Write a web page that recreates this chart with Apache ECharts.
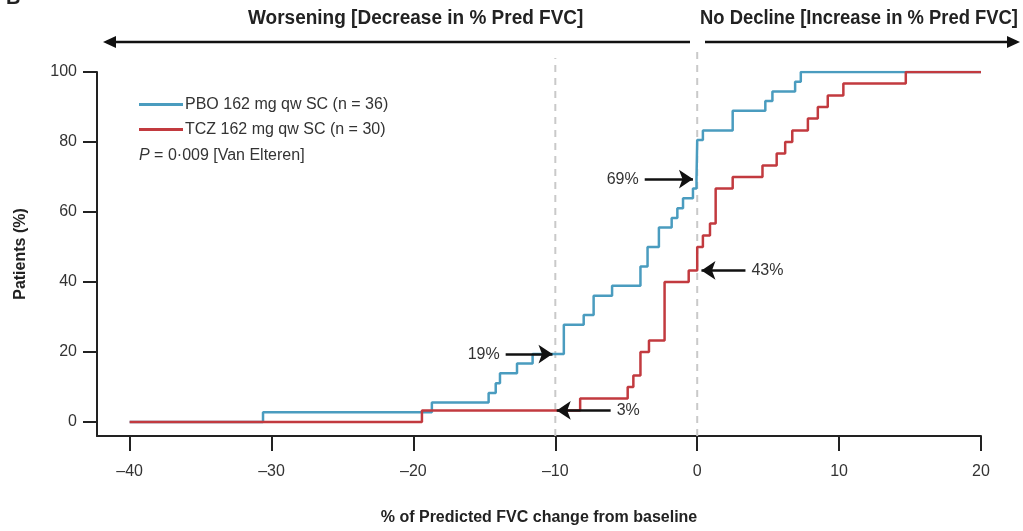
<!DOCTYPE html>
<html>
<head>
<meta charset="utf-8">
<script src="https://cdn.jsdelivr.net/npm/echarts@6/dist/echarts.min.js"></script>
<style>
  html, body { margin: 0; padding: 0; background: #fff; }
  #chart { width: 1023px; height: 531px; }
</style>
</head>
<body>
<div id="chart"></div>
<script>
// PBO 162 mg qw SC (n = 36) - step points: change from baseline, cumulative % of patients
const pboChange = [-40, -30.6, -18.7, -14.7, -14.2, -13.9, -12.7, -11.6, -9.4, -8.0, -7.3, -6.0, -4.0, -3.5, -2.7, -1.8, -1.4, -1.0, -0.3, -0.05, 0, 0.4, 2.5, 4.8, 5.3, 6.9, 7.3, 20];
const pboPct    = [0, 2.8, 5.6, 8.3, 11.1, 13.9, 16.7, 19.4, 27.8, 30.6, 36.1, 38.9, 44.4, 50.0, 55.6, 58.3, 61.1, 63.9, 66.7, 69.4, 80.6, 83.3, 88.9, 91.7, 94.4, 97.2, 100, 100];
// TCZ 162 mg qw SC (n = 30)
const tczChange = [-40, -19.4, -8.25, -4.9, -4.5, -4.0, -3.4, -2.3, -0.6, 0, 0.4, 0.9, 1.3, 2.5, 4.6, 5.6, 6.2, 6.7, 7.8, 8.5, 9.2, 10.3, 14.7, 20];
const tczPct    = [0, 3.3, 6.7, 10.0, 13.3, 20.0, 23.3, 40.0, 43.3, 50.0, 53.3, 56.7, 66.7, 70.0, 73.3, 76.7, 80.0, 83.3, 86.7, 90.0, 93.3, 96.7, 100, 100];

const xTicks = [-40, -30, -20, -10, 0, 10, 20];
const yTicks = [0, 20, 40, 60, 80, 100];
const refLines = [-10, 0];

// callouts: label, tail x, head x, y
const notes = [
  { text: '19%', from: -13.5, to: -10.2, y: 19.4 },
  { text: '69%', from: -3.7, to: -0.3, y: 69.4 },
  { text: '43%', from: 3.4, to: 0.3, y: 43.3 },
  { text: '3%', from: -6.1, to: -9.9, y: 3.3 }
];

const BLUE = '#4a9cbf';
const RED = '#c23a3f';
const SANS = "'Liberation Sans', Arial, sans-serif";

const zip = (xs, ys) => xs.map((x, i) => [x, ys[i]]);

const chart = echarts.init(document.getElementById('chart'));

const refSeries = refLines.map(x => ({
  type: 'line',
  name: 'ref' + x,
  data: [[x, -4], [x, x === 0 ? 107 : 104]],
  clip: false,
  symbol: 'none',
  silent: true,
  z: 1,
  lineStyle: { color: '#c9c9c9', width: 2, type: [7, 6] }
}));

const option = {
  animation: false,
  textStyle: { fontFamily: SANS },
  grid: { left: 97, right: 42, top: 72, bottom: 94 },
  legend: {
    data: ['PBO 162 mg qw SC (n = 36)', 'TCZ 162 mg qw SC (n = 30)'],
    orient: 'vertical',
    left: 134,
    top: 91,
    icon: 'rect',
    itemWidth: 44,
    itemHeight: 3,
    itemGap: 8,
    textStyle: { fontSize: 16, color: '#333', fontFamily: SANS, lineHeight: 17, padding: [0, 0, 0, -3] }
  },
  title: {
    text: '{i|P} = 0·009 [Van Elteren]',
    left: 134,
    top: 143,
    textStyle: {
      fontSize: 16, fontWeight: 'normal', color: '#333', fontFamily: SANS,
      rich: { i: { fontStyle: 'italic', fontSize: 16, color: '#333', fontFamily: SANS } }
    }
  },
  xAxis: {
    type: 'value',
    min: -42.3,
    max: 20,
    name: '% of Predicted FVC change from baseline',
    nameLocation: 'middle',
    nameGap: 74,
    nameTextStyle: { fontSize: 16, fontWeight: 'bold', color: '#222', fontFamily: SANS },
    splitLine: { show: false },
    axisLine: { onZero: false, lineStyle: { color: '#222', width: 2 } },
    axisTick: { customValues: xTicks, length: 15, lineStyle: { color: '#222', width: 2 } },
    axisLabel: {
      customValues: xTicks,
      margin: 28,
      fontSize: 16,
      color: '#333',
      fontFamily: SANS,
      formatter: v => (v < 0 ? '\u2013' + Math.abs(v) : String(v))
    }
  },
  yAxis: {
    type: 'value',
    min: -4,
    max: 100,
    name: 'Patients (%)',
    nameLocation: 'middle',
    nameGap: 68,
    nameTextStyle: { fontSize: 16, fontWeight: 'bold', color: '#222', fontFamily: SANS },
    splitLine: { show: false },
    axisLine: { show: true, onZero: false, lineStyle: { color: '#222', width: 2 } },
    axisTick: { show: true, customValues: yTicks, length: 14, lineStyle: { color: '#222', width: 2 } },
    axisLabel: { customValues: yTicks, margin: 20, fontSize: 16, color: '#333', fontFamily: SANS }
  },
  graphic: [
    { type: 'text', left: 6, top: -12, style: { text: 'B', fontSize: 20, fontWeight: 'bold', fill: '#222', fontFamily: SANS } },
    { type: 'text', x: 248, y: 8, scaleX: 0.95, style: { text: 'Worsening [Decrease in % Pred FVC]', fontSize: 20, fontWeight: 'bold', fill: '#222', fontFamily: SANS } },
    { type: 'text', x: 700, y: 8, scaleX: 0.92, style: { text: 'No Decline [Increase in % Pred FVC]', fontSize: 20, fontWeight: 'bold', fill: '#222', fontFamily: SANS } },
    { type: 'line', shape: { x1: 110, y1: 42, x2: 690, y2: 42 }, style: { stroke: '#111', lineWidth: 2.5 } },
    { type: 'polygon', shape: { points: [[103, 42], [116, 36], [116, 48]] }, style: { fill: '#111' } },
    { type: 'line', shape: { x1: 705, y1: 42, x2: 1012, y2: 42 }, style: { stroke: '#111', lineWidth: 2.5 } },
    { type: 'polygon', shape: { points: [[1020, 42], [1007, 36], [1007, 48]] }, style: { fill: '#111' } }
  ],
  series: [
    ...refSeries,
    {
      name: 'PBO 162 mg qw SC (n = 36)',
      type: 'line',
      step: 'end',
      symbol: 'none',
      color: BLUE,
      lineStyle: { color: BLUE, width: 2.5 },
      z: 3,
      data: zip(pboChange, pboPct)
    },
    {
      name: 'TCZ 162 mg qw SC (n = 30)',
      type: 'line',
      step: 'end',
      symbol: 'none',
      color: RED,
      lineStyle: { color: RED, width: 2.5 },
      z: 4,
      data: zip(tczChange, tczPct)
    },
    {
      name: 'notes',
      type: 'line',
      data: [],
      color: '#111',
      z: 5,
      markLine: {
        silent: true,
        symbol: ['none', 'arrow'],
        symbolSize: 14,
        itemStyle: { color: '#111' },
        lineStyle: { color: '#111', width: 2.5, type: 'solid' },
        label: { position: 'start', fontSize: 16, color: '#333', fontFamily: SANS, distance: 6 },
        data: notes.map(n => [
          { coord: [n.from, n.y], label: { formatter: n.text } },
          { coord: [n.to, n.y] }
        ])
      }
    }
  ]
};

chart.setOption(option);
</script>
</body>
</html>
